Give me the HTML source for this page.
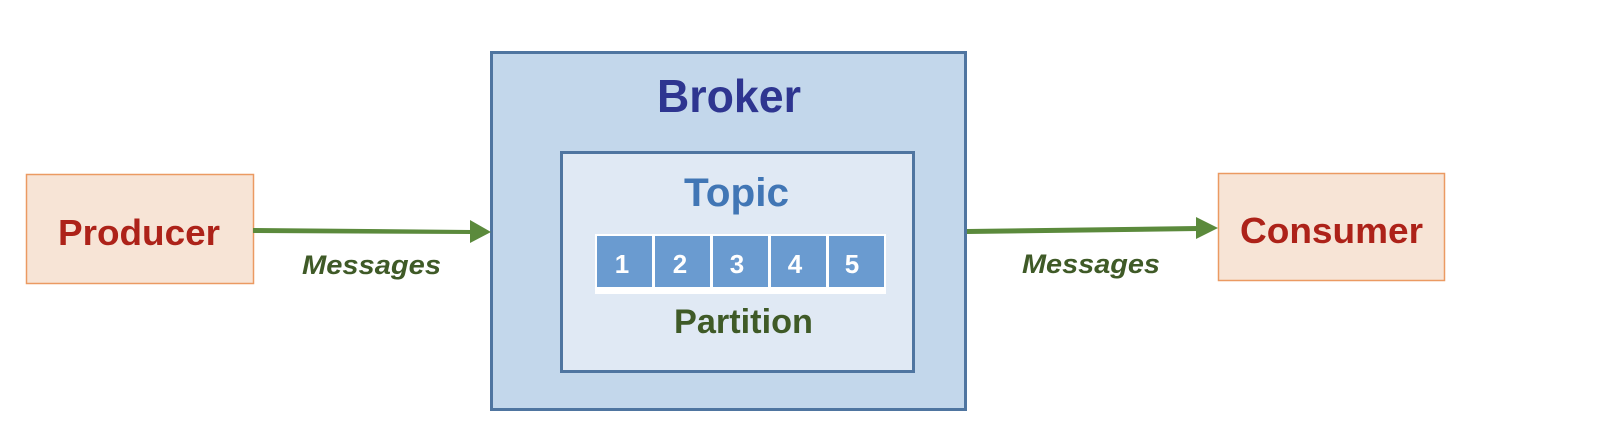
<!DOCTYPE html>
<html><head><meta charset="utf-8"><style>html,body{margin:0;padding:0;background:#fff;width:1616px;height:436px;overflow:hidden}</style></head>
<body>
<svg width="1616" height="436" xmlns="http://www.w3.org/2000/svg" font-family="Liberation Sans, sans-serif" font-weight="bold">
<rect x="0" y="0" width="1616" height="436" fill="#fff"/>
<!-- Producer -->
<rect x="26.5" y="174.5" width="227" height="109" fill="#f7e4d6" stroke="#eb9a62" stroke-width="1.5"/>
<text x="58" y="245" font-size="36" fill="#ad2219" textLength="162" lengthAdjust="spacingAndGlyphs">Producer</text>
<!-- Consumer -->
<rect x="1218.5" y="173.5" width="226" height="107" fill="#f7e4d6" stroke="#eb9a62" stroke-width="1.5"/>
<text x="1240" y="243" font-size="36" fill="#ad2219" textLength="183" lengthAdjust="spacingAndGlyphs">Consumer</text>
<!-- Broker -->
<rect x="491.5" y="52.5" width="474" height="357" fill="#c3d7eb" stroke="#4f75a0" stroke-width="3"/>
<text x="657" y="112" font-size="46" fill="#2e3590" textLength="144" lengthAdjust="spacingAndGlyphs">Broker</text>
<!-- Topic -->
<rect x="561.5" y="152.5" width="352" height="219" fill="#e0e9f4" stroke="#4f75a0" stroke-width="3"/>
<text x="684" y="206" font-size="40" fill="#4176b5" textLength="105" lengthAdjust="spacingAndGlyphs">Topic</text>
<!-- Partition cells -->
<rect x="595" y="234" width="291" height="60" fill="#fff"/>
<g fill="#6a9bd0">
<rect x="597" y="236" width="55" height="51"/>
<rect x="655" y="236" width="55" height="51"/>
<rect x="713" y="236" width="55" height="51"/>
<rect x="771" y="236" width="55" height="51"/>
<rect x="829" y="236" width="55" height="51"/>
</g>
<g fill="#fff" font-size="26" text-anchor="middle">
<text x="622" y="273">1</text>
<text x="680" y="273">2</text>
<text x="737" y="273">3</text>
<text x="795" y="273">4</text>
<text x="852" y="273">5</text>
</g>
<text x="674" y="333" font-size="34" fill="#3f5a27" textLength="139" lengthAdjust="spacingAndGlyphs">Partition</text>
<!-- Arrows -->
<polygon points="253,228 472,230 472,234 253,233" fill="#5b8a3c"/>
<polygon points="470,220 491,232 470,243" fill="#5b8a3c"/>
<polygon points="967,229 1198,226 1198,231 967,234" fill="#5b8a3c"/>
<polygon points="1196,217 1218,228 1196,239" fill="#5b8a3c"/>
<text x="302" y="274" font-size="27" font-style="italic" fill="#3f5a27" textLength="139" lengthAdjust="spacingAndGlyphs">Messages</text>
<text x="1022" y="273" font-size="27" font-style="italic" fill="#3f5a27" textLength="138" lengthAdjust="spacingAndGlyphs">Messages</text>
</svg>
</body></html>
